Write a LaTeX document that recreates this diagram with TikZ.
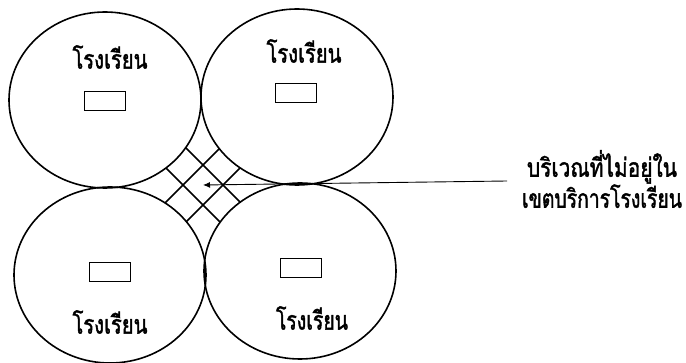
\documentclass[tikz,border=0pt]{standalone}
\usepackage{fontspec}
\newfontfamily\thaifont[Script=Thai, FakeStretch=0.75, FakeBold=1.5]{Loma}
\usetikzlibrary{shapes.geometric,arrows.meta}
\newcommand{\fitw}[2]{\resizebox{#1}{\height}{#2}}
\tikzset{
  zone/.style={draw, ellipse, line width=1.6pt, minimum width=192pt, minimum height=176pt, inner sep=0pt},
  school/.style={draw, rectangle, line width=1.4pt, minimum width=41pt, minimum height=19pt, inner sep=0pt},
  lbl/.style={font=\thaifont\fontsize{26}{31}\selectfont, inner sep=0pt},
  hatch/.style={line width=1.5pt},
  pointer/.style={line width=0.9pt, -{Latex[length=7pt,width=6pt]}}
}
\begin{document}
\begin{tikzpicture}[x=1pt,y=-1pt]
\useasboundingbox (0,0) rectangle (686,363);
\node[zone] (tl) at (105,100) {};
\node[zone] (tr) at (297,97) {};
\node[zone] (bl) at (110,275) {};
\node[zone] (br) at (300,271) {};
\node[school] (stl) at (105,101) {};
\node[school] (str) at (296,93) {};
\node[school] (sbl) at (110,272) {};
\node[school] (sbr) at (301,268) {};
\node[lbl] (ltl) at (110,57) {\fitw{75pt}{โรงเรียน}};
\node[lbl] (ltr) at (304,51) {\fitw{75pt}{โรงเรียน}};
\node[lbl] (lbl) at (110,322) {\fitw{75pt}{โรงเรียน}};
\node[lbl] (lbr) at (312,318) {\fitw{72pt}{โรงเรียน}};
\begin{scope}
  \clip (128,106) rectangle (278,266);
  \begin{scope}[even odd rule]
    \clip (0,0) rectangle (686,363)
      (105,100) ellipse [x radius=96, y radius=88]
      (297,97) ellipse [x radius=96, y radius=88]
      (110,275) ellipse [x radius=96, y radius=88]
      (300,271) ellipse [x radius=96, y radius=88];
    \draw[hatch] (143,105) -- (303,265);
    \draw[hatch] (103,105) -- (263,265);
    \draw[hatch] (303,105) -- (143,265);
    \draw[hatch] (263,105) -- (103,265);
  \end{scope}
\end{scope}
\node[lbl, align=center] (note) at (602,179) {\fitw{150pt}{บริเวณที่ไม่อยู่ใน}\\\fitw{160pt}{เขตบริการโรงเรียน}};
\coordinate (tail) at (507,181);
\coordinate (hole) at (203,185);
\draw[pointer] (tail) -- (hole);
\end{tikzpicture}
\end{document}
